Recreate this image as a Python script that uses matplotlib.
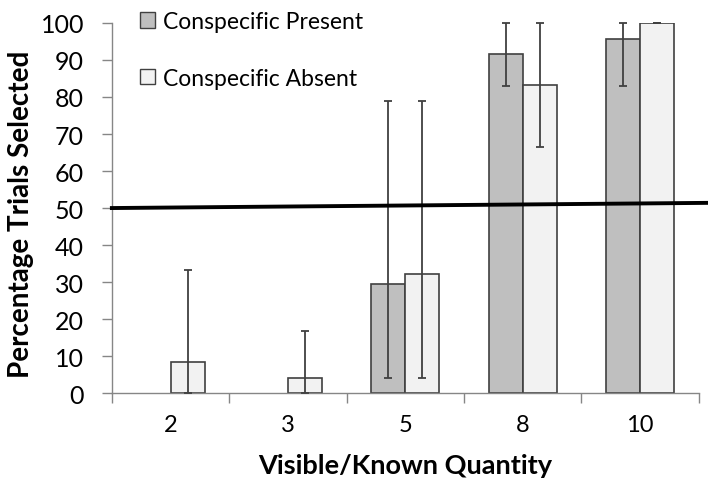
import numpy as np
import matplotlib.pyplot as plt
from matplotlib.lines import Line2D

plt.rcParams['font.family'] = ['Lato', 'DejaVu Sans']

quantities = ['2', '3', '5', '8', '10']
present = [0, 0, 29.4, 91.7, 95.8]
absent = [8.3, 4.2, 32.2, 83.3, 100]
present_lo = [0, 0, 25.4, 8.6, 12.7]
present_hi = [0, 0, 49.4, 8.3, 4.2]
absent_lo = [8.3, 4.2, 28.2, 16.8, 0]
absent_hi = [25.0, 12.5, 46.6, 16.7, 0]
chance = [50, 51.4]

x = np.arange(len(quantities))
w = 0.29

fig = plt.figure(figsize=(7.08, 4.89), dpi=100)
ax = fig.add_axes([0.158, 0.194, 0.829, 0.757])

series = [(x - w/2, present, present_lo, present_hi, '#bfbfbf'),
          (x + w/2, absent, absent_lo, absent_hi, '#f2f2f2')]

for xs, vals, lo, hi, col in series:
    vals = np.array(vals, dtype=float)
    keep = vals > 0   # zero bars are not drawn at all
    ax.bar(xs[keep], vals[keep], w, color=col, edgecolor='#404040', lw=1.2, zorder=2)
    for xi, v, l, h in zip(xs, vals, lo, hi):
        if v == 0 and h == 0:
            continue
        ax.errorbar(xi, v, yerr=[[l], [h]], fmt='none', ecolor='#404040',
                    elinewidth=1.3, capsize=2.7, capthick=1.3, zorder=3, clip_on=False)

# chance line, runs a bit past the axis
ax.add_line(Line2D([-0.5, 4.57], chance, color='black', lw=2.8, zorder=4, clip_on=False))

ax.set_xlim(-0.5, 4.5)
ax.set_ylim(0, 100)
ax.set_yticks(range(0, 101, 10))
ax.set_xticks(x)
ax.set_xticklabels(quantities)
ax.set_xticks(np.arange(-0.5, 4.6, 1), minor=True)

for s in ['top', 'right']:
    ax.spines[s].set_visible(False)
for s in ['left', 'bottom']:
    ax.spines[s].set_color('#868686')
    ax.spines[s].set_linewidth(1.0)

ax.tick_params(axis='y', length=7, width=1, color='#868686', pad=13, labelsize=18)
ax.tick_params(axis='x', which='major', length=0, pad=15, labelsize=17)
ax.tick_params(axis='x', which='minor', length=7, width=1, color='#868686')

ax.set_ylabel('Percentage Trials Selected', fontsize=20, fontweight='bold', labelpad=5)
ax.yaxis.label.set_y(0.486)
ax.set_xlabel('Visible/Known Quantity', fontsize=19.5, fontweight='bold', labelpad=13)

handles = [plt.Rectangle((0, 0), 1, 1, facecolor='#bfbfbf', edgecolor='#404040', lw=1),
           plt.Rectangle((0, 0), 1, 1, facecolor='#f2f2f2', edgecolor='#404040', lw=1)]
ax.legend(handles, ['Conspecific Present', 'Conspecific Absent'], loc='upper left',
          bbox_to_anchor=(0.175, 1.008), bbox_transform=fig.transFigure,
          frameon=False, fontsize=16.5, handlelength=0.65, handleheight=0.65,
          handletextpad=0.35, labelspacing=1.55, borderpad=0.2)

fig.savefig('out.png', dpi=100)
